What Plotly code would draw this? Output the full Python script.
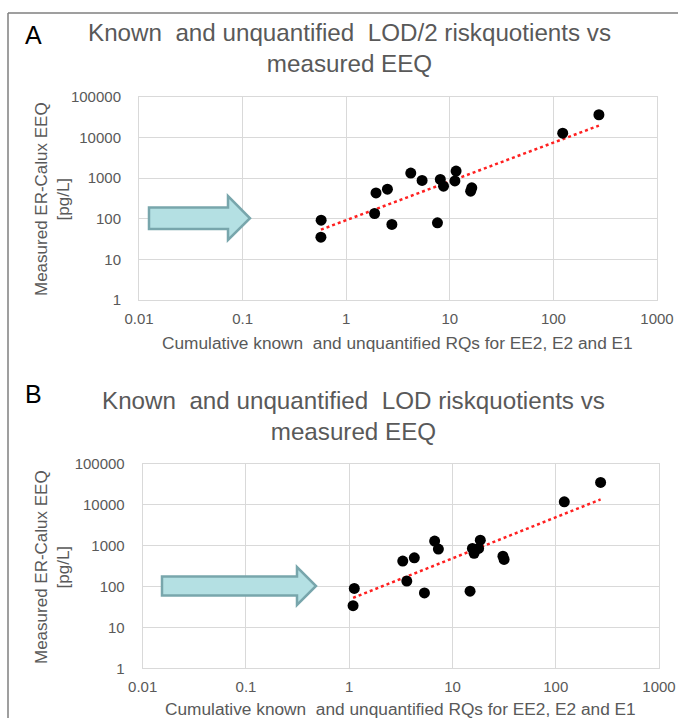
import numpy as np
import plotly.graph_objects as go

# ---- data ----
a_rq = [0.573, 0.57, 1.94, 2.5, 1.88, 2.76, 4.2, 5.4, 8.1, 8.7, 7.6, 11.5, 11.2, 16.3, 15.9, 123, 275]
a_eeq = [92, 35, 431, 533, 134, 72, 1320, 870, 923, 630, 79, 1480, 850, 575, 475, 12700, 36000]

b_rq = [1.12, 1.09, 3.30, 4.27, 3.61, 5.35, 6.72, 7.3, 15.6, 16.2, 18.6, 17.9, 14.8, 30.8, 31.6, 121, 272]
b_eeq = [90, 34, 420, 506, 136, 70, 1300, 826, 860, 650, 1370, 860, 77, 556, 462, 11900, 35500]

x_tickvals = [0.01, 0.1, 1, 10, 100, 1000]
x_ticktext = ["0.01", "0.1", "1", "10", "100", "1000"]
y_tickvals = [1, 10, 100, 1000, 10000, 100000]
y_ticktext = ["1", "10", "100", "1000", "10000", "100000"]

title_a = "Known\u00a0 and unquantified\u00a0 LOD/2 riskquotients vs<br>measured EEQ"
title_b = "Known\u00a0 and unquantified\u00a0 LOD riskquotients vs<br>measured EEQ"
x_title = "Cumulative known\u00a0 and unquantified RQs for EE2, E2 and E1"
y_title = "Measured ER-Calux EEQ<br>[pg/L]"

W, H = 678, 718
FONT = "Liberation Sans, Arial, sans-serif"
GRAY = "#595959"
GRID = "#d9d9d9"


def px(x):
    return x / W


def py(y):
    return 1 - y / H


def trend(xs, ys):
    lx, ly = np.log10(xs), np.log10(ys)
    m, c = np.polyfit(lx, ly, 1)
    xr = np.array([min(xs), max(xs)])
    return xr, 10 ** (m * np.log10(xr) + c)


fig = go.Figure()

for i, (xs, ys) in enumerate([(a_rq, a_eeq), (b_rq, b_eeq)]):
    xa = "x" if i == 0 else "x2"
    ya = "y" if i == 0 else "y2"
    tx, ty = trend(xs, ys)
    fig.add_trace(go.Scatter(x=tx, y=ty, mode="lines", xaxis=xa, yaxis=ya,
                             line=dict(color="#ff2020", width=2.5, dash="dot"),
                             showlegend=False, hoverinfo="skip"))
    fig.add_trace(go.Scatter(x=xs, y=ys, mode="markers", xaxis=xa, yaxis=ya,
                             marker=dict(color="black", size=11),
                             showlegend=False))

xaxis_common = dict(type="log", range=[-2, 3], tickmode="array",
                    tickvals=x_tickvals, ticktext=x_ticktext,
                    showgrid=True, gridcolor=GRID, gridwidth=1,
                    showline=True, linecolor=GRID, linewidth=1, mirror=True,
                    ticks="", ticklabelstandoff=5, automargin=False)
yaxis_common = dict(type="log", range=[0, 5], tickmode="array",
                    tickvals=y_tickvals, ticktext=y_ticktext,
                    showgrid=True, gridcolor=GRID, gridwidth=1,
                    showline=True, linecolor=GRID, linewidth=1, mirror=True,
                    ticks="", ticklabelstandoff=14, automargin=False)

fig.update_layout(
    width=W, height=H, autosize=False,
    margin=dict(l=0, r=0, t=0, b=0, pad=0),
    paper_bgcolor="white", plot_bgcolor="white",
    font=dict(family=FONT, size=15, color=GRAY),
    xaxis=dict(domain=[px(139), px(657)], anchor="y", **xaxis_common),
    yaxis=dict(domain=[py(300), py(96.7)], anchor="x", **yaxis_common),
    xaxis2=dict(domain=[px(142.7), px(659)], anchor="y2", **xaxis_common),
    yaxis2=dict(domain=[py(668.3), py(464)], anchor="x2", **yaxis_common),
)
fig.update_xaxes(tickfont=dict(family=FONT, size=15, color=GRAY))
fig.update_yaxes(tickfont=dict(family=FONT, size=15, color=GRAY))


def note(text, x, y, size, color=GRAY, angle=0):
    return dict(text=text, x=px(x), y=py(y), xref="paper", yref="paper",
                xanchor="center", yanchor="middle", showarrow=False,
                textangle=angle, font=dict(family=FONT, size=size, color=color))


ann = [
    note("A", 33.5, 35, 25, "black"),
    note("B", 33.5, 393.5, 25, "black"),
    note(title_a, 350, 48.5, 24.2),
    note(title_b, 353, 416, 24.2),
    note(x_title, 397, 343, 17.3),
    note(x_title, 400, 709, 17.3),
    note(y_title, 52, 199, 17, angle=-90),
    note(y_title, 52, 567, 17, angle=-90),
]
fig.update_layout(annotations=ann)


def arrow_path(x0, x1, xt, yb0, yb1, yh0, yh1):
    ym = (yb0 + yb1) / 2
    pts = [(x0, yb0), (x1, yb0), (x1, yh0), (xt, ym), (x1, yh1), (x1, yb1), (x0, yb1)]
    return "M " + " L ".join(f"{px(a):.5f},{py(b):.5f}" for a, b in pts) + " Z"


shapes = [
    dict(type="path", xref="paper", yref="paper",
         path=arrow_path(149, 228, 250, 207.5, 229, 196, 240),
         fillcolor="#b4e0e3", line=dict(color="#78a6ac", width=2.5)),
    dict(type="path", xref="paper", yref="paper",
         path=arrow_path(162, 297, 316, 576.5, 595.5, 567, 605),
         fillcolor="#b4e0e3", line=dict(color="#78a6ac", width=2.5)),
    # outer frame
    dict(type="line", xref="paper", yref="paper", x0=px(8), x1=1, y0=py(13), y1=py(13),
         line=dict(color="#7f7f7f", width=1.5)),
    dict(type="line", xref="paper", yref="paper", x0=px(8), x1=px(8), y0=py(13), y1=0,
         line=dict(color="#7f7f7f", width=1.5)),
]
fig.update_layout(shapes=shapes)

fig.write_html("out.html", config={"displayModeBar": False},
               post_script="document.body.style.margin='0';"
                           "document.body.style.overflow='hidden';")
